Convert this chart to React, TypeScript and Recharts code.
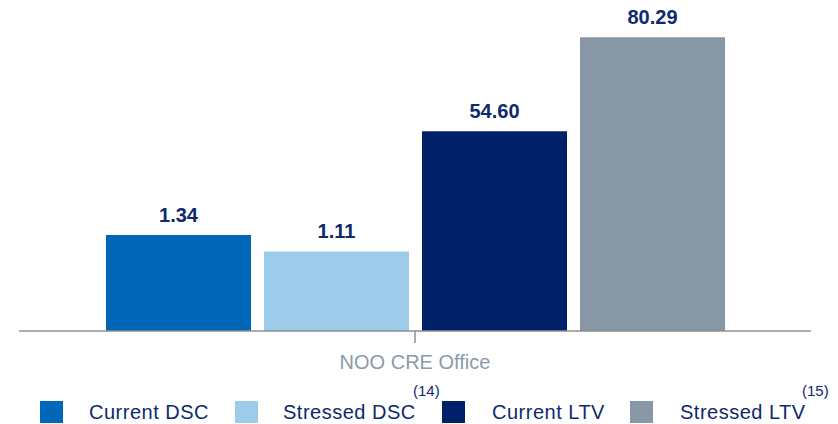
import { BarChart, Bar, XAxis, YAxis, LabelList } from "recharts";

const categories = ["NOO CRE Office"];
const currentDsc = [1.34];
const stressedDsc = [1.11];
const currentLtv = [54.6];
const stressedLtv = [80.29];

const seriesKeys = ["currentDsc", "stressedDsc", "currentLtv", "stressedLtv"];
const seriesAxis = ["dsc", "dsc", "ltv", "ltv"];
const legendLabels = ["Current DSC", "Stressed DSC", "Current LTV", "Stressed LTV"];
const legendNotes = ["", "(14)", "", "(15)"];

const data = categories.map((category, i) => ({
  category,
  currentDsc: currentDsc[i],
  stressedDsc: stressedDsc[i],
  currentLtv: currentLtv[i],
  stressedLtv: stressedLtv[i],
}));

const COLORS = ["#0066b8", "#9dcbea", "#00206a", "#8797a6"];
const NAVY = "#0e2a6c";
const FONT = "'Liberation Sans', Arial, sans-serif";

// legend layout: swatch x, text x, note x
const legendPos = [
  { sx: 40, tx: 89, nx: 0 },
  { sx: 235, tx: 283, nx: 413 },
  { sx: 442, tx: 492, nx: 0 },
  { sx: 630, tx: 680, nx: 802 },
];

function CategoryTick(props: any) {
  const { x, y, payload } = props;
  return (
    <text
      x={x}
      y={y}
      dy={24}
      textAnchor="middle"
      fill="#8a9aab"
      fontSize={20}
      fontFamily={FONT}
    >
      {payload.value}
    </text>
  );
}

export default function App() {
  return (
    <div
      style={{
        position: "absolute",
        left: 0,
        top: 0,
        width: 838,
        height: 424,
        background: "#fff",
        fontFamily: FONT,
      }}
    >
      <BarChart
        width={838}
        height={424}
        data={data}
        margin={{ top: 20, right: 27, left: 19, bottom: 0 }}
        barSize={145}
        barGap={13}
      >
        <XAxis
          dataKey="category"
          height={93}
          axisLine={{ stroke: "#8f8f8f", strokeWidth: 1.5 }}
          tickLine={{ stroke: "#8f8f8f", strokeWidth: 1.5 }}
          tickSize={12}
          tick={<CategoryTick />}
        />
        <YAxis yAxisId="dsc" hide domain={[0, 4.34]} />
        <YAxis yAxisId="ltv" hide domain={[0, 85]} />
        {seriesKeys.map((key, i) => (
          <Bar
            key={key}
            dataKey={key}
            yAxisId={seriesAxis[i]}
            fill={COLORS[i]}
            isAnimationActive={false}
          >
            <LabelList
              dataKey={key}
              position="top"
              offset={13}
              fill={NAVY}
              fontSize={20}
              fontWeight="bold"
              fontFamily={FONT}
              formatter={(v: any) => Number(v).toFixed(2)}
            />
          </Bar>
        ))}
      </BarChart>

      <svg
        width={838}
        height={424}
        style={{ position: "absolute", left: 0, top: 0, pointerEvents: "none" }}
      >
        {legendLabels.map((label, i) => (
          <g key={label}>
            <rect x={legendPos[i].sx} y={401} width={23} height={22} fill={COLORS[i]} />
            <text
              x={legendPos[i].tx}
              y={419}
              fill={NAVY}
              fontSize={20}
              letterSpacing={0.5}
              fontFamily={FONT}
            >
              {label}
            </text>
            {legendNotes[i] && (
              <text
                x={legendPos[i].nx}
                y={396}
                fill={NAVY}
                fontSize={15}
                fontFamily={FONT}
              >
                {legendNotes[i]}
              </text>
            )}
          </g>
        ))}
      </svg>
    </div>
  );
}
